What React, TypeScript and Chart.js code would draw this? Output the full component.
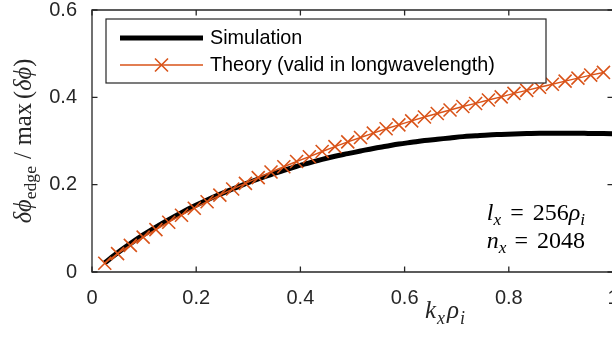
import React, { useEffect, useRef } from "react";
import { Chart, registerables } from "chart.js";

Chart.register(...registerables);

// k_x rho_i sampling (n * 2*pi / 256)
const kx: number[] = [
  0.0245, 0.0491, 0.0736, 0.0982, 0.1227, 0.1473, 0.1718, 0.1963, 0.2209, 0.2454,
  0.27, 0.2945, 0.3191, 0.3436, 0.3682, 0.3927, 0.4172, 0.4418, 0.4663, 0.4909,
  0.5154, 0.54, 0.5645, 0.589, 0.6136, 0.6381, 0.6627, 0.6872, 0.7118, 0.7363,
  0.7609, 0.7854, 0.8099, 0.8345, 0.859, 0.8836, 0.9081, 0.9327, 0.9572, 0.9817,
  1.0063,
];

const simulation: number[] = [
  0.021, 0.044, 0.065, 0.085, 0.103, 0.12, 0.136, 0.151, 0.165, 0.178,
  0.19, 0.202, 0.213, 0.223, 0.233, 0.242, 0.25, 0.258, 0.265, 0.271,
  0.277, 0.283, 0.288, 0.293, 0.297, 0.301, 0.304, 0.307, 0.31, 0.312,
  0.314, 0.315, 0.316, 0.317, 0.318, 0.318, 0.318, 0.318, 0.317, 0.317,
  0.316,
];

const theory: number[] = [
  0.02, 0.042, 0.061, 0.08, 0.097, 0.114, 0.13, 0.146, 0.161, 0.176,
  0.19, 0.203, 0.216, 0.229, 0.241, 0.253, 0.264, 0.276, 0.287, 0.298,
  0.308, 0.318, 0.328, 0.337, 0.346, 0.355, 0.363, 0.371, 0.379, 0.386,
  0.394, 0.401, 0.409, 0.416, 0.423, 0.43, 0.437, 0.444, 0.451, 0.457,
];

const seriesNames: string[] = ["Simulation", "Theory (valid in longwavelength)"];
const xTicks: number[] = [0, 0.2, 0.4, 0.6, 0.8, 1];
const yTicks: number[] = [0, 0.2, 0.4, 0.6];

const AXIS_COLOR = "#262626";
const ORANGE = "#D95319";
const SANS = "'Liberation Sans', Arial, Helvetica, sans-serif";
const SERIF = "'Liberation Serif', 'DejaVu Serif', 'Times New Roman', serif";

type Piece = { t: string; it?: boolean; sub?: boolean; gap?: number };

function pieceFont(p: Piece, size: number) {
  const s = p.sub ? size * 0.72 : size;
  return `${p.it ? "italic " : ""}${s}px ${SERIF}`;
}

function drawMath(
  ctx: CanvasRenderingContext2D,
  pieces: Piece[],
  x: number,
  y: number,
  size: number,
  align: "left" | "center" | "right"
) {
  ctx.save();
  ctx.textBaseline = "alphabetic";
  ctx.textAlign = "left";
  let total = 0;
  const widths = pieces.map((p) => {
    if (p.gap !== undefined) {
      total += p.gap;
      return p.gap;
    }
    ctx.font = pieceFont(p, size);
    const w = ctx.measureText(p.t).width;
    total += w;
    return w;
  });
  let cx = align === "left" ? x : align === "center" ? x - total / 2 : x - total;
  pieces.forEach((p, i) => {
    if (p.gap === undefined) {
      ctx.font = pieceFont(p, size);
      ctx.fillText(p.t, cx, y + (p.sub ? size * 0.22 : 0));
    }
    cx += widths[i];
  });
  ctx.restore();
}

const decorPlugin = {
  id: "decor",
  afterDatasetsDraw(chart: any) {
    const ctx: CanvasRenderingContext2D = chart.ctx;
    const { left, right, top, bottom } = chart.chartArea;
    const xs = chart.scales.x;
    const ys = chart.scales.y;
    const tl = 5.5;

    ctx.save();
    // axes box
    ctx.strokeStyle = AXIS_COLOR;
    ctx.lineWidth = 1.3;
    ctx.beginPath();
    ctx.rect(left, top, right - left, bottom - top);
    ctx.stroke();
    // inward ticks
    ctx.beginPath();
    xTicks.forEach((v) => {
      const px = xs.getPixelForValue(v);
      ctx.moveTo(px, bottom);
      ctx.lineTo(px, bottom - tl);
      ctx.moveTo(px, top);
      ctx.lineTo(px, top + tl);
    });
    yTicks.forEach((v) => {
      const py = ys.getPixelForValue(v);
      ctx.moveTo(left, py);
      ctx.lineTo(left + tl, py);
      ctx.moveTo(right, py);
      ctx.lineTo(right - tl, py);
    });
    ctx.stroke();

    // legend
    const lx = 106, ly = 19, lw = 440, lh = 64;
    ctx.fillStyle = "#ffffff";
    ctx.fillRect(lx, ly, lw, lh);
    ctx.lineWidth = 1.2;
    ctx.strokeStyle = AXIS_COLOR;
    ctx.strokeRect(lx, ly, lw, lh);
    const ds = chart.data.datasets;
    const rows = [38, 65];
    // simulation entry
    ctx.strokeStyle = ds[1].borderColor;
    ctx.lineWidth = ds[1].borderWidth;
    ctx.beginPath();
    ctx.moveTo(120, rows[0]);
    ctx.lineTo(203, rows[0]);
    ctx.stroke();
    // theory entry
    ctx.strokeStyle = ds[0].borderColor;
    ctx.lineWidth = ds[0].borderWidth;
    ctx.beginPath();
    ctx.moveTo(120, rows[1]);
    ctx.lineTo(203, rows[1]);
    ctx.stroke();
    ctx.lineWidth = ds[0].pointBorderWidth;
    const mr = 6.5;
    ctx.beginPath();
    ctx.moveTo(161.5 - mr, rows[1] - mr);
    ctx.lineTo(161.5 + mr, rows[1] + mr);
    ctx.moveTo(161.5 + mr, rows[1] - mr);
    ctx.lineTo(161.5 - mr, rows[1] + mr);
    ctx.stroke();
    ctx.fillStyle = "#000000";
    ctx.font = `19.8px ${SANS}`;
    ctx.textBaseline = "middle";
    ctx.textAlign = "left";
    ctx.fillText(seriesNames[0], 210, rows[0] + 1);
    ctx.fillText(seriesNames[1], 210, rows[1] + 1);

    // annotation
    ctx.fillStyle = "#000000";
    drawMath(
      ctx,
      [
        { t: "l", it: true },
        { t: "x", it: true, sub: true },
        { gap: 9 },
        { t: "=" },
        { gap: 9 },
        { t: "256" },
        { t: "ρ", it: true },
        { t: "i", it: true, sub: true },
      ],
      585,
      220,
      24,
      "right"
    );
    drawMath(
      ctx,
      [
        { t: "n", it: true },
        { t: "x", it: true, sub: true },
        { gap: 8 },
        { t: "=" },
        { gap: 9 },
        { t: "2048" },
      ],
      585,
      248,
      24,
      "right"
    );

    // x title
    ctx.fillStyle = "#262626";
    drawMath(
      ctx,
      [
        { t: "k", it: true },
        { gap: 1 },
        { t: "x", it: true, sub: true },
        { gap: 2 },
        { t: "ρ", it: true },
        { gap: 1 },
        { t: "i", it: true, sub: true },
      ],
      445,
      318,
      25,
      "center"
    );

    // y title
    ctx.translate(31, (top + bottom) / 2);
    ctx.rotate(-Math.PI / 2);
    drawMath(
      ctx,
      [
        { t: "δϕ", it: true },
        { t: "edge", sub: true },
        { gap: 7 },
        { t: "/" },
        { gap: 7 },
        { t: "max" },
        { gap: 4 },
        { t: "(" },
        { t: "δϕ", it: true },
        { t: ")" },
      ],
      0,
      0,
      24.5,
      "center"
    );
    ctx.restore();
  },
};

export default function App() {
  const ref = useRef<HTMLCanvasElement | null>(null);

  useEffect(() => {
    if (!ref.current) return;
    const chart = new Chart(ref.current, {
      type: "line",
      data: {
        datasets: [
          {
            label: seriesNames[1],
            data: theory.map((v, i) => ({ x: kx[i], y: v })),
            borderColor: ORANGE,
            backgroundColor: ORANGE,
            borderWidth: 1.4,
            pointStyle: "crossRot",
            pointRadius: 9.2,
            pointBorderWidth: 1.6,
            pointBorderColor: ORANGE,
            fill: false,
            tension: 0,
            order: 0,
          },
          {
            label: seriesNames[0],
            data: simulation.map((v, i) => ({ x: kx[i], y: v })),
            borderColor: "#000000",
            borderWidth: 5,
            pointRadius: 0,
            fill: false,
            cubicInterpolationMode: "monotone",
            order: 1,
          },
        ],
      },
      options: {
        responsive: false,
        animation: false,
        events: [],
        layout: { autoPadding: false, padding: { top: 10, right: 7, left: 0, bottom: 0 } },
        plugins: {
          legend: { display: false },
          tooltip: { enabled: false },
          title: { display: false },
        },
        scales: {
          x: {
            type: "linear",
            min: 0,
            max: 1,
            afterBuildTicks: (s: any) => {
              s.ticks = xTicks.map((v) => ({ value: v }));
            },
            afterFit: (s: any) => {
              s.height = 66;
              s.paddingLeft = 0;
              s.paddingRight = 0;
            },
            grid: { display: false, drawTicks: false },
            border: { display: false },
            ticks: {
              padding: 16,
              color: AXIS_COLOR,
              font: { family: SANS, size: 20, lineHeight: 1 },
              maxRotation: 0,
              callback: (v: any) => String(Math.round(Number(v) * 10) / 10),
            },
          },
          y: {
            type: "linear",
            min: 0,
            max: 0.6,
            afterBuildTicks: (s: any) => {
              s.ticks = yTicks.map((v) => ({ value: v }));
            },
            afterFit: (s: any) => {
              s.width = 92;
              s.paddingTop = 0;
              s.paddingBottom = 0;
            },
            grid: { display: false, drawTicks: false },
            border: { display: false },
            ticks: {
              padding: 15,
              color: AXIS_COLOR,
              font: { family: SANS, size: 20, lineHeight: 1 },
              callback: (v: any) => String(Math.round(Number(v) * 10) / 10),
            },
          },
        },
      },
      plugins: [decorPlugin],
    });
    return () => chart.destroy();
  }, []);

  return (
    <div
      style={{
        position: "fixed",
        left: 0,
        top: 0,
        width: 612,
        height: 338,
        overflow: "hidden",
        background: "#ffffff",
      }}
    >
      <canvas ref={ref} width={620} height={338} style={{ display: "block" }} />
    </div>
  );
}
